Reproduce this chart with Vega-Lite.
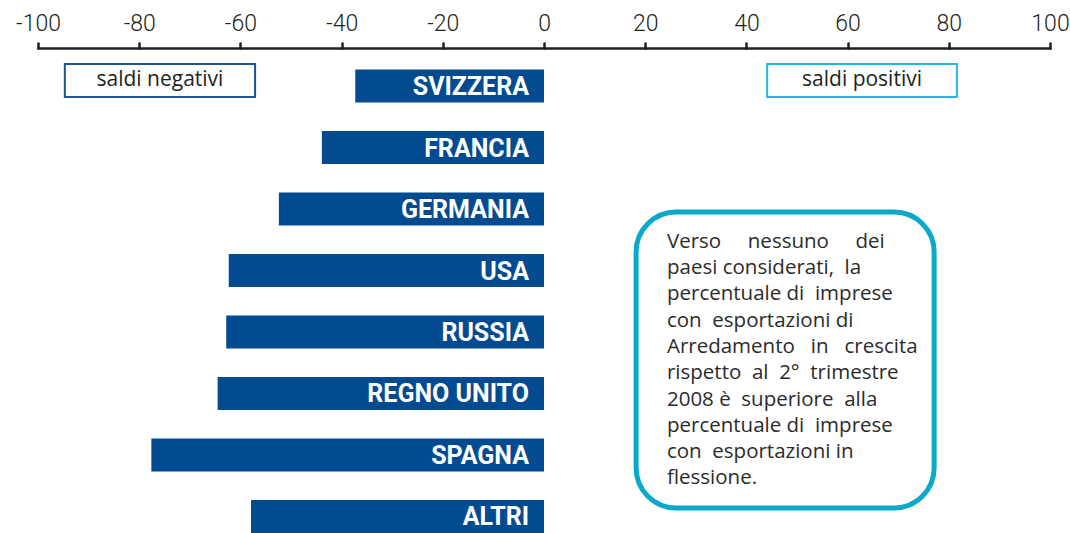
{
  "$schema": "https://vega.github.io/schema/vega-lite/v6.json",
  "width": 1012,
  "height": 485,
  "autosize": "none",
  "padding": {"left": 38, "top": 48, "right": 20, "bottom": 0},
  "background": "white",
  "config": {"view": {"stroke": null}, "font": "Roboto"},
  "datasets": {
    "bars": [
      {"paese": "SVIZZERA", "saldo": -37.3},
      {"paese": "FRANCIA", "saldo": -43.9},
      {"paese": "GERMANIA", "saldo": -52.4},
      {"paese": "USA", "saldo": -62.3},
      {"paese": "RUSSIA", "saldo": -62.8},
      {"paese": "REGNO UNITO", "saldo": -64.5},
      {"paese": "SPAGNA", "saldo": -77.6},
      {"paese": "ALTRI", "saldo": -57.9}
    ],
    "legendBoxes": [
      {"label": "saldi negativi", "x0": -94.7, "x1": -57.1, "xm": -75.9, "r0": 0.642, "r1": 1.179, "rm": 0.91, "tipo": "neg"},
      {"label": "saldi positivi", "x0": 44.1, "x1": 81.6, "xm": 62.85, "r0": 0.642, "r1": 1.179, "rm": 0.91, "tipo": "pos"}
    ],
    "note": [
      {"x0": 18.2, "x1": 77.1, "r0": 3.049, "r1": 7.863, "xt": 24.3, "rt": 3.37,
       "testo": ["Verso\u00a0\u00a0\u00a0\u00a0 nessuno\u00a0\u00a0\u00a0\u00a0 dei", "paesi considerati,\u00a0 la", "percentuale di\u00a0 imprese", "con\u00a0 esportazioni di", "Arredamento\u00a0\u00a0 in\u00a0\u00a0 crescita", "rispetto\u00a0 al\u00a0 2°\u00a0 trimestre", "2008 è\u00a0 superiore\u00a0 alla", "percentuale di\u00a0 imprese", "con\u00a0 esportazioni in", "flessione."]}
    ]
  },
  "layer": [
    {
      "data": {"name": "bars"},
      "mark": {"type": "bar", "color": "#034b91"},
      "encoding": {
        "x": {
          "field": "saldo", "type": "quantitative",
          "scale": {"domain": [-100, 100], "nice": false, "zero": false},
          "axis": {
            "orient": "top", "title": null, "values": [-100, -80, -60, -40, -20, 0, 20, 40, 60, 80, 100],
            "labelExpr": "toString(datum.value)",
            "grid": false, "domainColor": "#231f20", "domainWidth": 2.5, "domainCap": "round",
            "tickColor": "#231f20", "tickWidth": 2.5, "tickSize": 5, "tickCap": "round",
            "labelColor": "#231f20", "labelFontSize": 23, "labelFont": "Roboto", "labelFontWeight": 300,
            "labelPadding": 8, "labelFlush": false
          }
        },
        "y": {
          "field": "paese", "type": "nominal", "sort": null,
          "scale": {"type": "band", "paddingInner": 0.4625, "paddingOuter": 0.175, "align": 1},
          "axis": null
        }
      }
    },
    {
      "data": {"name": "bars"},
      "mark": {"type": "text", "align": "right", "baseline": "middle", "dx": -15, "dy": 1, "color": "white", "font": "Roboto", "fontWeight": "bold", "fontSize": 25},
      "encoding": {
        "x": {"datum": 0, "type": "quantitative"},
        "y": {
          "field": "paese", "type": "nominal", "sort": null, "bandPosition": 0.5,
          "scale": {"type": "band", "paddingInner": 0.4625, "paddingOuter": 0.175, "align": 1},
          "axis": null
        },
        "text": {"field": "paese"}
      }
    },
    {
      "mark": {"type": "rule", "color": "#231f20", "strokeWidth": 2.5},
      "encoding": {"x": {"datum": 0, "type": "quantitative"}}
    },
    {
      "data": {"name": "legendBoxes"},
      "mark": {"type": "rect", "fill": "white", "strokeWidth": 2},
      "encoding": {
        "x": {"field": "x0", "type": "quantitative"},
        "x2": {"field": "x1"},
        "y": {"field": "r0", "type": "quantitative", "scale": {"domain": [0.382, 8.269], "reverse": true, "nice": false, "zero": false}, "axis": null},
        "y2": {"field": "r1"},
        "stroke": {"field": "tipo", "type": "nominal", "scale": {"domain": ["neg", "pos"], "range": ["#1c5496", "#2bb5e6"]}, "legend": null}
      }
    },
    {
      "data": {"name": "legendBoxes"},
      "mark": {"type": "text", "align": "center", "baseline": "middle", "color": "#231f20", "font": "Open Sans", "fontSize": 21},
      "encoding": {
        "x": {"field": "xm", "type": "quantitative"},
        "y": {"field": "rm", "type": "quantitative", "scale": {"domain": [0.382, 8.269], "reverse": true, "nice": false, "zero": false}, "axis": null},
        "text": {"field": "label"}
      }
    },
    {
      "data": {"name": "note"},
      "mark": {"type": "rect", "fill": "white", "stroke": "#0aa9c9", "strokeWidth": 5, "cornerRadius": 40},
      "encoding": {
        "x": {"field": "x0", "type": "quantitative"},
        "x2": {"field": "x1"},
        "y": {"field": "r0", "type": "quantitative", "scale": {"domain": [0.382, 8.269], "reverse": true, "nice": false, "zero": false}, "axis": null},
        "y2": {"field": "r1"}
      }
    },
    {
      "data": {"name": "note"},
      "mark": {"type": "text", "align": "left", "baseline": "top", "color": "#2b2b2b", "font": "Open Sans", "fontSize": 20.5, "lineHeight": 26.3},
      "encoding": {
        "x": {"field": "xt", "type": "quantitative"},
        "y": {"field": "rt", "type": "quantitative", "scale": {"domain": [0.382, 8.269], "reverse": true, "nice": false, "zero": false}, "axis": null},
        "text": {"field": "testo"}
      }
    }
  ],
  "resolve": {"scale": {"y": "independent", "stroke": "independent"}}
}
